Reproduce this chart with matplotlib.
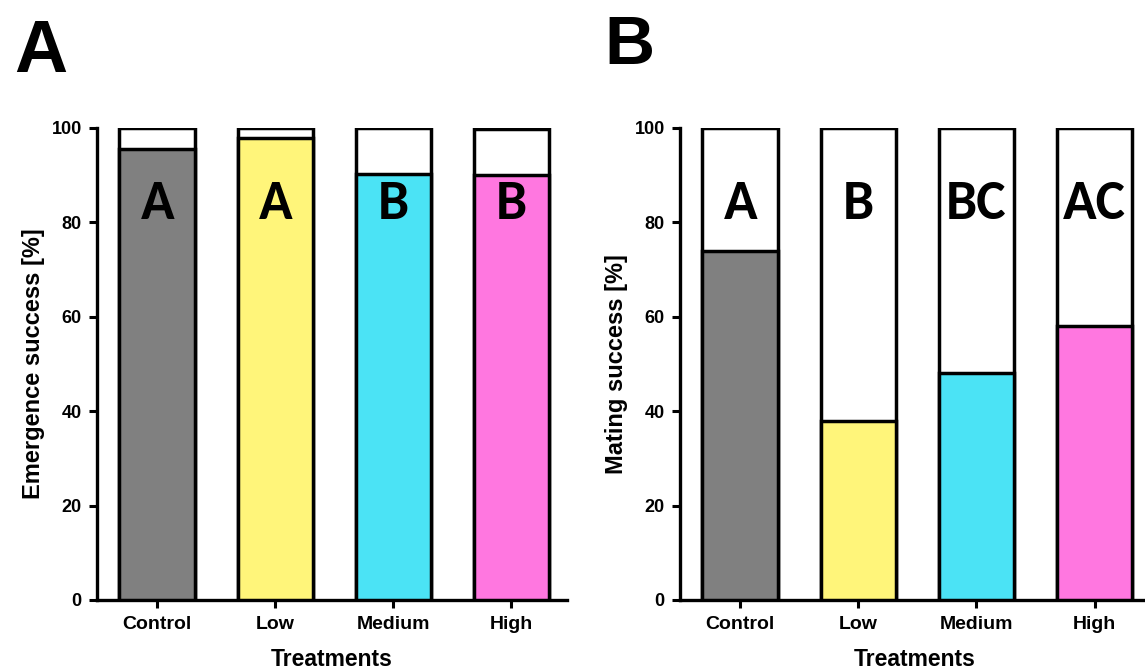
import numpy as np
import matplotlib.pyplot as plt

# treatment groups and their stacked bar values (%)
treatments = ["Control", "Low", "Medium", "High"]
colors = ["#808080", "#FFF57A", "#4BE3F5", "#FF77E0"]

emergence = [95.5, 97.8, 90.3, 90.0]
emergence_total = [100, 100, 100, 99.7]
emergence_groups = ["A", "A", "B", "B"]

mating = [74.0, 38.0, 48.0, 58.0]
mating_total = [100, 100, 100, 100]
mating_groups = ["A", "B", "BC", "AC"]

plt.rcParams["font.family"] = ["Liberation Sans", "DejaVu Sans"]
letter_font = ["Carlito", "Lato", "DejaVu Sans"]

fig = plt.figure(figsize=(11.45, 6.7), dpi=100)
ax1 = fig.add_axes([0.0847, 0.1045, 0.4105, 0.7045])
ax2 = fig.add_axes([0.5939, 0.1045, 0.4105, 0.7045])


def draw_panel(ax, values, totals, groups, ylabel):
    x = np.arange(len(treatments))
    ax.bar(x, totals, width=0.64, color="white", edgecolor="black", linewidth=2.5, zorder=2)
    ax.bar(x, values, width=0.64, color=colors, edgecolor="black", linewidth=2.5, zorder=3)
    for xi, g in zip(x, groups):
        ax.text(xi, 80.7, g, ha="center", va="baseline", fontsize=40,
                fontweight="bold", family=letter_font, zorder=4)
    ax.set_xlim(-0.51, 3.47)
    ax.set_ylim(0, 100)
    ax.set_yticks([0, 20, 40, 60, 80, 100])
    ax.set_xticks(x)
    ax.set_xticklabels(treatments, fontsize=14, fontweight="bold")
    for lab in ax.get_yticklabels():
        lab.set_fontsize(13)
        lab.set_fontweight("bold")
    ax.tick_params(axis="y", direction="out", length=6, width=2.2, pad=5)
    ax.tick_params(axis="x", direction="out", length=6, width=2.2, pad=5.5)
    for side in ["top", "right"]:
        ax.spines[side].set_visible(False)
    for side in ["left", "bottom"]:
        ax.spines[side].set_linewidth(2.4)
    ax.set_ylabel(ylabel, fontsize=17, fontweight="bold", labelpad=5)
    ax.set_xlabel("Treatments", fontsize=16.5, fontweight="bold", labelpad=11)


draw_panel(ax1, emergence, emergence_total, emergence_groups, "Emergence success [%]")
draw_panel(ax2, mating, mating_total, mating_groups, "Mating success [%]")

# panel letters
fig.text(0.012, 0.8925, "A", fontsize=53, fontweight="bold", va="baseline")
fig.text(0.528, 0.9045, "B", fontsize=50, fontweight="bold", va="baseline")

fig.savefig("out.png", dpi=100)
